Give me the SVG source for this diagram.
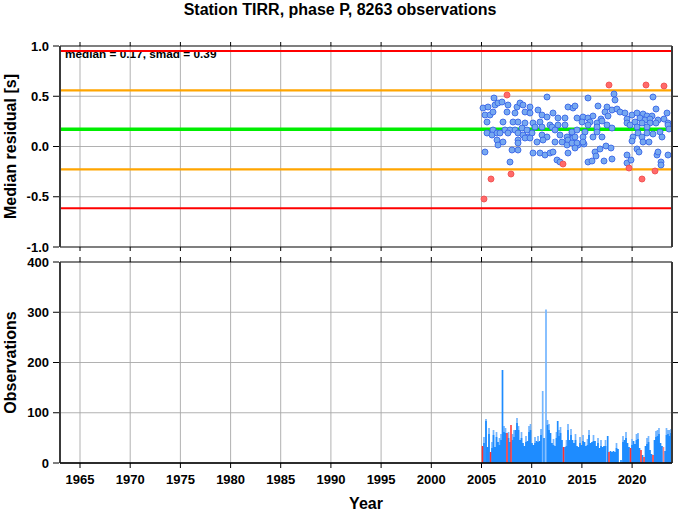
<svg xmlns="http://www.w3.org/2000/svg" width="678" height="511" viewBox="0 0 678 511">
<style>
text{font-family:"Liberation Sans",Arial,sans-serif;font-weight:bold;fill:#000}
.t{font-size:16px}
.k{font-size:13px}
.kl{text-anchor:end}
.km{text-anchor:middle}
.grid{stroke:#a8a8a8;stroke-width:0.9;fill:none}
.tick{stroke:#000;stroke-width:1;fill:none}
.frame{stroke:#000;stroke-width:1.2;fill:none}
.side{stroke:#3a3a3a;stroke-width:2;fill:none}
.bd circle{fill:#76a8f0;stroke:#3a66e8;stroke-width:0.9}
.rd circle{fill:#ff6a6a;stroke:#f05050;stroke-width:0.9}
</style>
<rect width="678" height="511" fill="#fff"/>
<text class="t" x="340" y="15" text-anchor="middle">Station TIRR, phase P, 8263 observations</text>

<g id="top-panel">
<g class="grid">
<path d="M80 46V247M130.2 46V247M180.4 46V247M230.6 46V247M280.7 46V247M330.9 46V247M381.1 46V247M431.3 46V247M481.5 46V247M531.7 46V247M581.9 46V247M632.1 46V247"/>
<path d="M60 96.25H672M60 146.5H672M60 196.75H672"/>
</g>
<text x="65" y="57.5" style="font-size:11.8px">median = 0.17, smad = 0.39</text>
<g id="ref-lines" fill="none">
<path d="M60 51H672" stroke="#ff0000" stroke-width="2"/>
<path d="M60 208.3H672" stroke="#ff0000" stroke-width="2"/>
<path d="M60 90.3H672" stroke="#ffa500" stroke-width="2.2"/>
<path d="M60 169.3H672" stroke="#ffa500" stroke-width="2.2"/>
<path d="M60 129.3H672" stroke="#00ee00" stroke-width="3.4"/>
</g>
<g id="dots" class="bd">
<circle cx="494" cy="98" r="3"/><circle cx="547" cy="97" r="3"/><circle cx="483" cy="108" r="3"/><circle cx="488" cy="107" r="3"/><circle cx="495" cy="105" r="3"/><circle cx="498" cy="103" r="3"/><circle cx="502" cy="102" r="3"/><circle cx="508" cy="105" r="3"/><circle cx="517" cy="107" r="3"/><circle cx="520" cy="103" r="3"/><circle cx="523" cy="105" r="3"/><circle cx="530" cy="107" r="3"/><circle cx="538" cy="110" r="3"/><circle cx="553" cy="113" r="3"/><circle cx="568" cy="107" r="3"/><circle cx="573" cy="108" r="3"/>
<circle cx="485" cy="115" r="3"/><circle cx="490" cy="115" r="3"/><circle cx="493" cy="112" r="3"/><circle cx="507" cy="112" r="3"/><circle cx="515" cy="113" r="3"/><circle cx="525" cy="112" r="3"/><circle cx="530" cy="113" r="3"/><circle cx="542" cy="115" r="3"/><circle cx="547" cy="117" r="3"/><circle cx="558" cy="118" r="3"/><circle cx="565" cy="118" r="3"/>
<circle cx="487" cy="122" r="3"/><circle cx="503" cy="122" r="3"/><circle cx="513" cy="122" r="3"/><circle cx="518" cy="122" r="3"/><circle cx="525" cy="123" r="3"/><circle cx="533" cy="123" r="3"/><circle cx="540" cy="122" r="3"/><circle cx="550" cy="125" r="3"/><circle cx="558" cy="125" r="3"/><circle cx="565" cy="125" r="3"/>
<circle cx="493" cy="130" r="3"/><circle cx="505" cy="130" r="3"/><circle cx="510" cy="130" r="3"/><circle cx="515" cy="130" r="3"/><circle cx="522" cy="128" r="3"/><circle cx="527" cy="130" r="3"/><circle cx="535" cy="127" r="3"/><circle cx="542" cy="127" r="3"/><circle cx="552" cy="127" r="3"/><circle cx="555" cy="130" r="3"/>
<circle cx="487" cy="133" r="3"/><circle cx="492" cy="135" r="3"/><circle cx="497" cy="133" r="3"/><circle cx="500" cy="133" r="3"/><circle cx="508" cy="133" r="3"/><circle cx="518" cy="133" r="3"/><circle cx="523" cy="135" r="3"/><circle cx="528" cy="137" r="3"/><circle cx="532" cy="133" r="3"/><circle cx="542" cy="135" r="3"/><circle cx="547" cy="137" r="3"/><circle cx="560" cy="135" r="3"/><circle cx="567" cy="137" r="3"/><circle cx="572" cy="133" r="3"/>
<circle cx="497" cy="140" r="3"/><circle cx="503" cy="142" r="3"/><circle cx="518" cy="140" r="3"/><circle cx="525" cy="138" r="3"/><circle cx="530" cy="138" r="3"/><circle cx="537" cy="142" r="3"/><circle cx="543" cy="140" r="3"/><circle cx="555" cy="142" r="3"/><circle cx="562" cy="142" r="3"/><circle cx="568" cy="140" r="3"/><circle cx="573" cy="138" r="3"/>
<circle cx="498" cy="145" r="3"/><circle cx="518" cy="143" r="3"/><circle cx="567" cy="145" r="3"/><circle cx="572" cy="143" r="3"/><circle cx="584" cy="144" r="3"/><circle cx="578" cy="145" r="3"/>
<circle cx="512" cy="150" r="3"/><circle cx="518" cy="150" r="3"/><circle cx="533" cy="153" r="3"/><circle cx="540" cy="153" r="3"/><circle cx="545" cy="155" r="3"/><circle cx="550" cy="153" r="3"/><circle cx="553" cy="152" r="3"/><circle cx="568" cy="153" r="3"/><circle cx="485" cy="152" r="3"/>
<circle cx="510" cy="162" r="3"/><circle cx="557" cy="160" r="3"/><circle cx="560" cy="162" r="3"/>
<circle cx="614" cy="94" r="3"/><circle cx="615" cy="100" r="3"/><circle cx="653" cy="97" r="3"/><circle cx="588" cy="98" r="3"/>
<circle cx="575" cy="106" r="3"/><circle cx="598" cy="106" r="3"/><circle cx="607" cy="107" r="3"/><circle cx="656" cy="109" r="3"/>
<circle cx="605" cy="112" r="3"/><circle cx="612" cy="110" r="3"/><circle cx="617" cy="109" r="3"/><circle cx="620" cy="112" r="3"/><circle cx="625" cy="113" r="3"/><circle cx="632" cy="115" r="3"/><circle cx="637" cy="113" r="3"/><circle cx="643" cy="114" r="3"/><circle cx="647" cy="116" r="3"/><circle cx="652" cy="116" r="3"/><circle cx="667" cy="113" r="3"/>
<circle cx="577" cy="118" r="3"/><circle cx="583" cy="117" r="3"/><circle cx="588" cy="118" r="3"/><circle cx="593" cy="116" r="3"/><circle cx="601" cy="119" r="3"/><circle cx="608" cy="116" r="3"/><circle cx="627" cy="119" r="3"/><circle cx="640" cy="118" r="3"/><circle cx="645" cy="120" r="3"/><circle cx="650" cy="119" r="3"/><circle cx="658" cy="120" r="3"/><circle cx="664" cy="119" r="3"/>
<circle cx="582" cy="122" r="3"/><circle cx="590" cy="122" r="3"/><circle cx="597" cy="123" r="3"/><circle cx="602" cy="121" r="3"/><circle cx="627" cy="123" r="3"/><circle cx="635" cy="122" r="3"/><circle cx="642" cy="123" r="3"/><circle cx="650" cy="123" r="3"/><circle cx="656" cy="123" r="3"/><circle cx="668" cy="123" r="3"/>
<circle cx="588" cy="125" r="3"/><circle cx="597" cy="127" r="3"/><circle cx="607" cy="125" r="3"/><circle cx="612" cy="128" r="3"/><circle cx="630" cy="125" r="3"/><circle cx="637" cy="127" r="3"/><circle cx="647" cy="127" r="3"/><circle cx="668" cy="125" r="3"/>
<circle cx="572" cy="132" r="3"/><circle cx="577" cy="130" r="3"/><circle cx="585" cy="132" r="3"/><circle cx="597" cy="132" r="3"/><circle cx="638" cy="133" r="3"/><circle cx="647" cy="133" r="3"/><circle cx="653" cy="134" r="3"/><circle cx="660" cy="132" r="3"/><circle cx="669" cy="129" r="3"/>
<circle cx="575" cy="137" r="3"/><circle cx="583" cy="137" r="3"/><circle cx="593" cy="137" r="3"/><circle cx="602" cy="137" r="3"/><circle cx="633" cy="137" r="3"/><circle cx="642" cy="137" r="3"/><circle cx="662" cy="137" r="3"/>
<circle cx="577" cy="143" r="3"/><circle cx="583" cy="142" r="3"/><circle cx="632" cy="141" r="3"/><circle cx="643" cy="142" r="3"/><circle cx="649" cy="142" r="3"/>
<circle cx="575" cy="148" r="3"/><circle cx="600" cy="149" r="3"/><circle cx="606" cy="146" r="3"/><circle cx="611" cy="148" r="3"/><circle cx="637" cy="149" r="3"/>
<circle cx="595" cy="152" r="3"/><circle cx="596" cy="156" r="3"/><circle cx="627" cy="155" r="3"/><circle cx="639" cy="152" r="3"/><circle cx="657" cy="155" r="3"/><circle cx="658" cy="152" r="3"/><circle cx="668" cy="155" r="3"/>
<circle cx="588" cy="162" r="3"/><circle cx="592" cy="161" r="3"/><circle cx="604" cy="161" r="3"/><circle cx="612" cy="159" r="3"/><circle cx="627" cy="163" r="3"/><circle cx="631" cy="160" r="3"/><circle cx="661" cy="162" r="3"/><circle cx="661" cy="165" r="3"/>
</g>
<g id="outliers" class="rd">
<circle cx="507" cy="95" r="3"/><circle cx="563" cy="164" r="3"/><circle cx="491" cy="179" r="3"/><circle cx="511" cy="174" r="3"/><circle cx="484" cy="199" r="3"/>
<circle cx="609" cy="85" r="3"/><circle cx="646" cy="85" r="3"/><circle cx="664" cy="86" r="3"/><circle cx="629" cy="168" r="3"/><circle cx="655" cy="171" r="3"/><circle cx="642" cy="179" r="3"/>
</g>
<path class="frame" d="M60 46H672M60 247H672"/>
<path class="side" d="M60 46V247M672 46V247"/>
<path class="tick" d="M80 46V42M130.2 46V42M180.4 46V42M230.6 46V42M280.7 46V42M330.9 46V42M381.1 46V42M431.3 46V42M481.5 46V42M531.7 46V42M581.9 46V42M632.1 46V42M80 247V251M130.2 247V251M180.4 247V251M230.6 247V251M280.7 247V251M330.9 247V251M381.1 247V251M431.3 247V251M481.5 247V251M531.7 247V251M581.9 247V251M632.1 247V251M53 46H59M53 96.25H59M53 146.5H59M53 196.75H59M53 247H59M673 96.25H678M673 146.5H678M673 196.75H678"/>
<g class="k kl">
<text x="49" y="50.5">1.0</text>
<text x="49" y="100.75">0.5</text>
<text x="49" y="151">0.0</text>
<text x="49" y="201.25">-0.5</text>
<text x="49" y="251.5">-1.0</text>
</g>
<text class="t" transform="translate(16,146.5) rotate(-90)" text-anchor="middle">Median residual [s]</text>
</g>

<g id="bottom-panel">
<g class="grid">
<path d="M80 262V463M130.2 262V463M180.4 262V463M230.6 262V463M280.7 262V463M330.9 262V463M381.1 262V463M431.3 262V463M481.5 262V463M531.7 262V463M581.9 262V463M632.1 262V463"/>
<path d="M60 312.25H672M60 362.5H672M60 412.75H672"/>
</g>
<g id="bars" fill="none" stroke-width="1.7">
<path stroke="#74b6ff" d="M484 463V437M486 463V419M489 463V428M492 463V442M493.5 463V430M496.5 463V432M499.5 463V438M501 463V434M504 463V426M505.5 463V428M508.5 463V432M512.5 463V434M514 463V430M517 463V418M518.5 463V426M521.5 463V432M526 463V436M529 463V426M530.5 463V424M535 463V437M538 463V436M541 463V429M542.7 463V391M546 463V309.6M547.5 463V420M549 463V424M553.5 463V439M556.5 463V432M559 463V430M560.5 463V427M566.5 463V440M568 463V424M571 463V429M575.5 463V434M580 463V437M583 463V435M587.5 463V439M589 463V430M593.5 463V435M598 463V438M601 463V440M605.5 463V440M616.5 463V443M623 463V436M626 463V432M632 463V439M636.5 463V434M638 463V433M647 463V438M648.5 463V436M656 463V431M657.5 463V430M659 463V428M666.5 463V428M668 463V430M669.5 463V430M671 463V429"/>
<path stroke="#1e8cff" d="M484 463V443M486 463V421M487.5 463V447M489 463V434M492 463V448M493.5 463V435M495 463V447M496.5 463V437M498 463V442M499.5 463V445M501 463V440M502.5 463V370M504 463V432M505.5 463V433M508.5 463V438M510 463V442M512.5 463V440M514 463V437M515.5 463V430M517 463V423M518.5 463V430M520 463V440M521.5 463V438M523 463V443M524.5 463V446M526 463V442M527.5 463V441M529 463V432M530.5 463V430M532 463V443M533.5 463V445M535 463V443M536.5 463V441M538 463V442M539.5 463V441M541 463V435M544 463V438M547.5 463V425M549 463V430M550.5 463V433M552 463V443M553.5 463V445M555 463V446M556.5 463V438M557.7 463V421M559 463V436M560.5 463V433M562 463V440M565 463V447M566.5 463V446M568 463V430M569.5 463V440M571 463V435M572.5 463V440M574 463V443M575.5 463V440M577 463V446M578.5 463V447M580 463V443M581.5 463V445M583 463V441M584.5 463V442M586 463V446M587.5 463V445M589 463V435M590.5 463V443M592 463V442M593.5 463V441M595 463V441M596.5 463V446M598 463V443M599.5 463V448M601 463V446M602.5 463V447M604 463V446M605.5 463V446M607.7 463V436M610.5 463V451M612 463V452M613.5 463V451M615 463V452M616.5 463V448M618 463V449M621 463V460M623 463V442M624.5 463V440M626 463V438M627.5 463V443M629 463V447M632 463V445M633.5 463V441M635 463V444M636.5 463V440M638 463V439M639.5 463V448M642.5 463V455M645.5 463V446M647 463V444M648.5 463V442M650 463V450M651.5 463V454M654.5 463V440M656 463V437M657.5 463V436M659 463V434M660.5 463V443M662 463V446M665 463V451M666.5 463V435M668 463V434M669.5 463V436M671 463V433"/>
<path stroke="#ff3030" stroke-width="1.5" d="M482.5 463V446M490.5 463V452M507 463V433M511 463V425M563.5 463V447M609 463V452M630.5 463V448M641 463V450M644 463V457M653 463V455"/>
<path stroke="#ff8080" stroke-width="1.5" d="M663.5 463V447"/>
</g>
<path class="frame" d="M60 262H672M60 463H672"/>
<path class="side" d="M60 262V463M672 262V463"/>
<path d="M60 463H672" stroke="#111" stroke-width="1.6"/>
<path class="tick" d="M80 262V257M130.2 262V257M180.4 262V257M230.6 262V257M280.7 262V257M330.9 262V257M381.1 262V257M431.3 262V257M481.5 262V257M531.7 262V257M581.9 262V257M632.1 262V257M80 463V468M130.2 463V468M180.4 463V468M230.6 463V468M280.7 463V468M330.9 463V468M381.1 463V468M431.3 463V468M481.5 463V468M531.7 463V468M581.9 463V468M632.1 463V468M53 262H59M53 312.25H59M53 362.5H59M53 412.75H59M53 463H59M673 312.25H678M673 362.5H678M673 412.75H678"/>
<g class="k kl">
<text x="49" y="266.5">400</text>
<text x="49" y="316.75">300</text>
<text x="49" y="367">200</text>
<text x="49" y="417.25">100</text>
<text x="49" y="467.5">0</text>
</g>
<g class="k km">
<text x="80" y="484">1965</text>
<text x="130.2" y="484">1970</text>
<text x="180.4" y="484">1975</text>
<text x="230.6" y="484">1980</text>
<text x="280.7" y="484">1985</text>
<text x="330.9" y="484">1990</text>
<text x="381.1" y="484">1995</text>
<text x="431.3" y="484">2000</text>
<text x="481.5" y="484">2005</text>
<text x="531.7" y="484">2010</text>
<text x="581.9" y="484">2015</text>
<text x="632.1" y="484">2020</text>
</g>
<text class="t" transform="translate(16,362.5) rotate(-90)" text-anchor="middle">Observations</text>
<text class="t" x="366" y="509" text-anchor="middle">Year</text>
</g>
</svg>
